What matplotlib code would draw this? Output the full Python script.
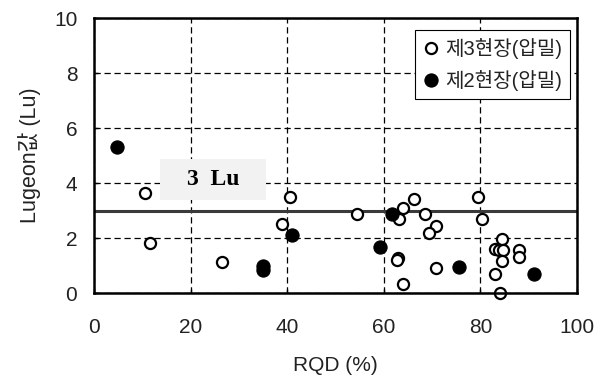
import matplotlib
matplotlib.use("Agg")
import matplotlib.pyplot as plt
from matplotlib.patches import Rectangle

plt.rcParams['font.family'] = ['Liberation Sans', 'Noto Sans CJK KR', 'DejaVu Sans']

# 제3현장(압밀) - open circles
rqd_site3 = [10.6, 11.5, 26.6, 40.6, 38.9, 54.4, 63.2, 64.0, 66.3, 68.5, 70.8, 69.4,
             63.0, 62.7, 64.0, 70.8, 79.6, 80.4, 84.4, 83.0, 83.9, 84.6, 84.4, 83.0,
             84.1, 87.9, 87.9]
lu_site3 = [3.64, 1.82, 1.13, 3.5, 2.5, 2.89, 2.71, 3.11, 3.41, 2.89, 2.43, 2.2,
            1.29, 1.2, 0.31, 0.92, 3.5, 2.71, 1.97, 1.6, 1.58, 1.58, 1.15, 0.68,
            0.0, 1.55, 1.31]

# 제2현장(압밀) - filled circles
rqd_site2 = [4.8, 34.9, 34.9, 41.1, 59.2, 61.8, 75.6, 91.1]
lu_site2 = [5.3, 1.0, 0.84, 2.12, 1.66, 2.89, 0.93, 0.68]

limit_lu = 2.97
limit_text = "3  Lu"
labels = ["제3현장(압밀)", "제2현장(압밀)"]
x_ticks = [0, 20, 40, 60, 80, 100]
y_ticks = [0, 2, 4, 6, 8, 10]

fig = plt.figure(figsize=(6.06, 3.76), dpi=100)
ax = fig.add_axes([0.1551, 0.2207, 0.797, 0.7313])

ax.set_xlim(0, 100)
ax.set_ylim(0, 10)
ax.set_xticks(x_ticks)
ax.set_yticks(y_ticks)
ax.grid(True, color='black', linestyle=(0, (5, 3)), linewidth=0.9)
ax.set_axisbelow(True)

for s in ax.spines.values():
    s.set_linewidth(1.8)
    s.set_zorder(6)

ax.tick_params(axis='both', direction='in', length=3, width=1, labelsize=15,
               labelcolor='#222222')
ax.tick_params(axis='x', pad=18)
ax.tick_params(axis='y', pad=12)

# gray label box
ax.add_patch(Rectangle((0.1366, 0.338), 0.219, 0.149, transform=ax.transAxes,
                       facecolor='#f2f2f2', edgecolor='none', zorder=2))
ax.text(0.246, 0.4125, limit_text, transform=ax.transAxes, ha='center', va='center',
        family='Liberation Serif', fontweight='bold', fontsize=17, zorder=3)

ax.axhline(limit_lu, color='#3a3a3a', linewidth=2.2, zorder=3)

ax.plot(rqd_site3, lu_site3, linestyle='none', marker='o', markersize=8,
        markerfacecolor='white', markeredgecolor='black', markeredgewidth=1.6,
        label=labels[0], zorder=4, clip_on=False)
ax.plot(rqd_site2, lu_site2, linestyle='none', marker='o', markersize=9.5,
        markerfacecolor='black', markeredgecolor='black', markeredgewidth=0.8,
        label=labels[1], zorder=4, clip_on=False)

leg = ax.legend(loc='upper right', bbox_to_anchor=(0.9855, 0.956), fontsize=14.5,
                frameon=True, fancybox=False, framealpha=1, edgecolor='black',
                handlelength=0.8, handletextpad=0.3, borderpad=0.4,
                labelspacing=0.55, borderaxespad=0)
leg.get_frame().set_linewidth(0.8)
leg.set_zorder(7)
for t in leg.get_texts():
    t.set_color('#222222')

ax.set_xlabel("RQD (%)", fontsize=15, labelpad=14, color='#222222')
ax.set_ylabel("Lugeon값 (Lu)", fontsize=15.5, labelpad=9, color='#222222')

fig.savefig("out.png", dpi=100)
